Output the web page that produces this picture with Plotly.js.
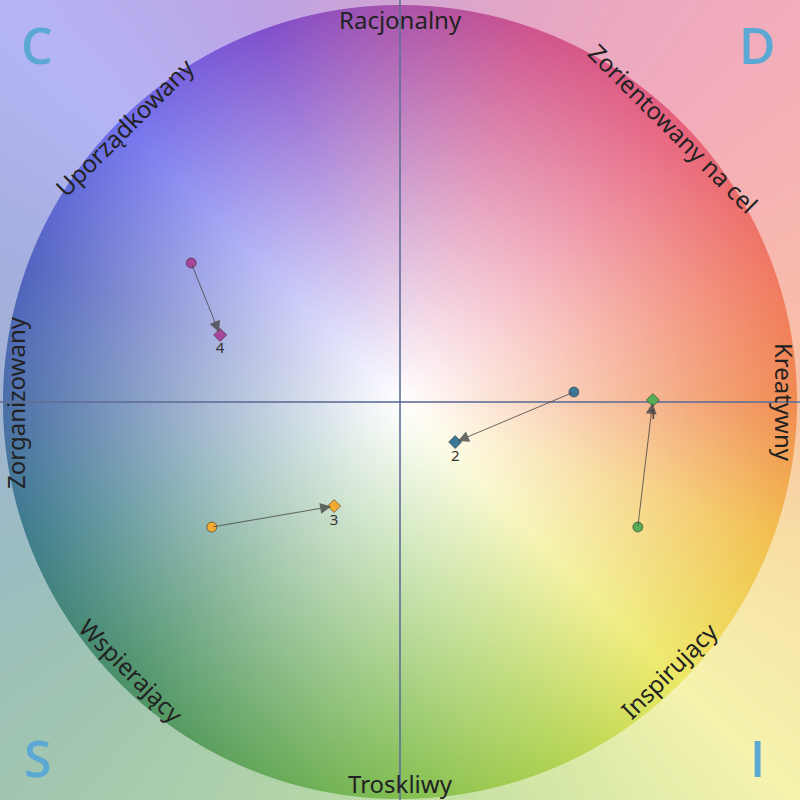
<!DOCTYPE html>
<html>
<head>
<meta charset="utf-8">
<script src="https://cdn.plot.ly/plotly-3.0.1.min.js"></script>
<style>html,body{margin:0;padding:0;background:#fff;}#chart{width:800px;height:800px;}</style>
</head>
<body>
<div id="chart"></div>
<script>
// ---- data ----
const pointLabels = ['1', '2', '3', '4'];
const startX = [0.599, 0.438, -0.474, -0.526];
const startY = [-0.315, 0.025, -0.315, 0.350];
const endX = [0.637, 0.139, -0.166, -0.453];
const endY = [0.005, -0.101, -0.262, 0.169];
const pointColors = ['#55ad55', '#3a7896', '#f2aa30', '#a8469c'];

const edgeLabels = ['Kreatywny', 'Zorientowany na cel', 'Racjonalny', 'Uporządkowany', 'Zorganizowany', 'Wspierający', 'Troskliwy', 'Inspirujący'];
const cornerLetters = ['C', 'D', 'S', 'I'];

// ---- background colour wheel (decoration) ----
const ringAngles = [0, 20, 45, 70, 90, 110, 135, 160, 180, 200, 225, 250, 270, 295, 315, 340, 360];
const ringColors = ['#f08a50', '#f07862', '#e6607c', '#cf548c', '#a852aa', '#8050cc', '#7070ec', '#5264c0', '#4a6ea8', '#3f7e8c', '#4a9068', '#66a85a', '#80bd50', '#b4d454', '#ece864', '#f2c050', '#f08a50'];

function hex(c){return [parseInt(c.slice(1,3),16),parseInt(c.slice(3,5),16),parseInt(c.slice(5,7),16)];}
const ringRGB = ringColors.map(hex);
function wheelColor(a){
  for(let i=0;i<ringAngles.length-1;i++){
    if(a>=ringAngles[i] && a<=ringAngles[i+1]){
      const t=(a-ringAngles[i])/(ringAngles[i+1]-ringAngles[i]);
      const c0=ringRGB[i], c1=ringRGB[i+1];
      return [c0[0]+(c1[0]-c0[0])*t, c0[1]+(c1[1]-c0[1])*t, c0[2]+(c1[2]-c0[2])*t];
    }
  }
  return ringRGB[0];
}
const W=800, H=800, CX=400, CY=402, RAD=397;
const cv=document.createElement('canvas'); cv.width=W; cv.height=H;
const ctx=cv.getContext('2d');
const img=ctx.createImageData(W,H);
for(let y=0;y<H;y++){
  for(let x=0;x<W;x++){
    const dx=x+0.5-CX, dy=CY-(y+0.5);
    const r=Math.sqrt(dx*dx+dy*dy);
    let a=Math.atan2(dy,dx)*180/Math.PI; if(a<0)a+=360;
    const c=wheelColor(a);
    const w=Math.max(0,1-r/RAD);
    const inside=[c[0]*(1-w)+255*w, c[1]*(1-w)+255*w, c[2]*(1-w)+255*w];
    const outside=[c[0]*0.52+255*0.48, c[1]*0.52+255*0.48, c[2]*0.52+255*0.48];
    const cov=Math.min(1,Math.max(0,RAD-r+0.5));
    const k=(y*W+x)*4;
    img.data[k]=inside[0]*cov+outside[0]*(1-cov);
    img.data[k+1]=inside[1]*cov+outside[1]*(1-cov);
    img.data[k+2]=inside[2]*cov+outside[2]*(1-cov);
    img.data[k+3]=255;
  }
}
ctx.putImageData(img,0,0);
const bgURL=cv.toDataURL('image/png');

// ---- traces ----
const traces=[
  {type:'scatter', mode:'markers', x:startX, y:startY, hoverinfo:'skip',
   marker:{symbol:'circle', size:10, color:pointColors, line:{color:'rgba(40,40,40,0.55)', width:1}}},
  {type:'scatter', mode:'markers+text', x:endX, y:endY, text:pointLabels, textposition:'bottom center',
   textfont:{family:'Noto Sans', size:15, color:'#333'}, hoverinfo:'skip',
   marker:{symbol:'diamond', size:10, color:pointColors, line:{color:'rgba(40,40,40,0.55)', width:1}}}
];

// ---- annotations ----
const ann=[];
for(let i=0;i<pointLabels.length;i++){
  ann.push({x:endX[i], y:endY[i], ax:startX[i], ay:startY[i], xref:'x', yref:'y', axref:'x', ayref:'y',
    text:'', showarrow:true, arrowhead:2, arrowsize:2.2, arrowwidth:1, arrowcolor:'rgba(70,70,70,0.8)', standoff:3});
}
const labelAngles=[0,45,90,135,180,225,270,315];
const labelRadii=[0.97,0.975,0.977,0.98,0.97,0.957,0.962,0.957];
const labelRot=[90,45,0,-45,-90,45,0,-45];
for(let i=0;i<edgeLabels.length;i++){
  const t=labelAngles[i]*Math.PI/180;
  const a={x:labelRadii[i]*Math.cos(t), y:labelRadii[i]*Math.sin(t), xref:'x', yref:'y', showarrow:false,
    text:edgeLabels[i], textangle:labelRot[i], xanchor:'center', yanchor:'middle',
    font:{family:'Noto Sans', size:24, color:'#222'}};
  if(labelAngles[i]===90){ a.yref='paper'; a.y=1-1/800; a.yanchor='top'; }
  ann.push(a);
}
const cornerPos=[[37,45],[757,45],[38,758],[757,758]];
for(let i=0;i<cornerLetters.length;i++){
  ann.push({x:cornerPos[i][0]/800, y:1-cornerPos[i][1]/800, xref:'paper', yref:'paper', showarrow:false,
    text:cornerLetters[i], xanchor:'center', yanchor:'middle',
    font:{family:'Open Sans', size:50, weight:600, color:'#5ca8d4'}});
}

const layout={
  width:800, height:800, margin:{l:0,r:0,t:0,b:0},
  paper_bgcolor:'rgba(0,0,0,0)', plot_bgcolor:'rgba(0,0,0,0)',
  showlegend:false,
  xaxis:{range:[-400/397, 400/397], showgrid:false, showticklabels:false, ticks:'', zeroline:true, zerolinecolor:'rgba(95,110,150,0.8)', zerolinewidth:2, fixedrange:true},
  yaxis:{range:[-398/397, 402/397], showgrid:false, showticklabels:false, ticks:'', zeroline:true, zerolinecolor:'rgba(95,110,150,0.8)', zerolinewidth:2, fixedrange:true},
  images:[{source:bgURL, xref:'paper', yref:'paper', x:0, y:1, sizex:1, sizey:1, sizing:'stretch', xanchor:'left', yanchor:'top', layer:'below'}],
  annotations:ann
};
Plotly.newPlot('chart', traces, layout, {displayModeBar:false, staticPlot:true});
</script>
</body>
</html>
